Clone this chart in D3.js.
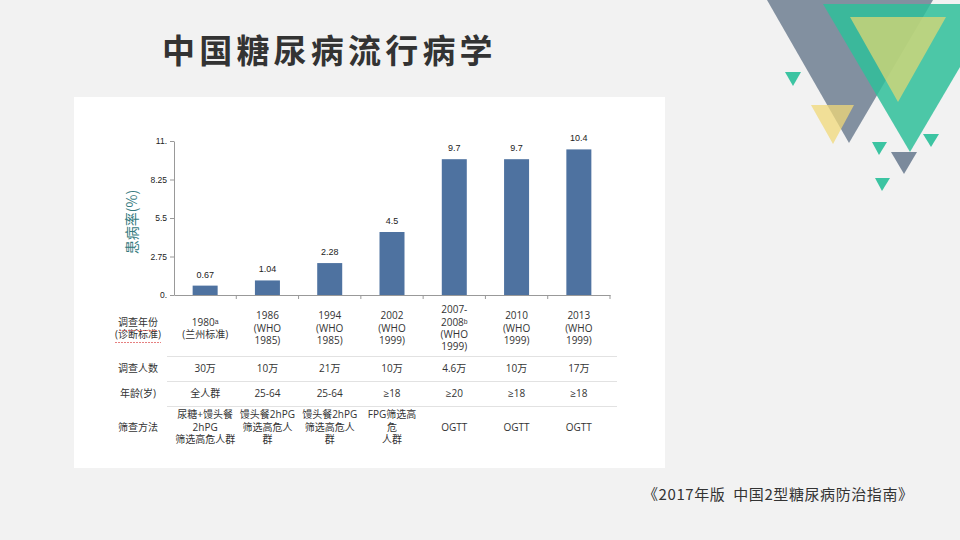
<!DOCTYPE html>
<html><head><meta charset="utf-8">
<script src="https://cdn.jsdelivr.net/npm/d3@7"></script>
<style>
html,body{margin:0;padding:0;background:#f2f2f2;}
svg{display:block;font-family:"Noto Sans CJK SC","Microsoft YaHei",sans-serif;}
</style></head>
<body><svg id="c" width="960" height="540"></svg>
<script>
const categories = ["1980","1986","1994","2002","2007-2008","2010","2013"];
const prevalence = [0.67, 1.04, 2.28, 4.5, 9.7, 9.7, 10.4];
const valueLabels = ["0.67","1.04","2.28","4.5","9.7","9.7","10.4"];
const yTicks = [0, 2.75, 5.5, 8.25, 11];
const yTickLabels = ["0.","2.75","5.5","8.25","11."];
const surveyYear = [["1980ᵃ","(兰州标准)"],["1986","(WHO","1985)"],["1994","(WHO","1985)"],["2002","(WHO","1999)"],["2007-","2008ᵇ","(WHO","1999)"],["2010","(WHO","1999)"],["2013","(WHO","1999)"]];
const sampleSize = ["30万","10万","21万","10万","4.6万","10万","17万"];
const ageRange = ["全人群","25-64","25-64","≥18","≥20","≥18","≥18"];
const screening = [["尿糖+馒头餐","2hPG","筛选高危人群"],["馒头餐2hPG","筛选高危人","群"],["馒头餐2hPG","筛选高危人","群"],["FPG筛选高","危","人群"],["OGTT"],["OGTT"],["OGTT"]];
const rowLabels = [["调查年份","(诊断标准)"],["调查人数"],["年龄(岁)"],["筛查方法"]];

const svg = d3.select("#c");

// decorative triangles
const tris = [
  {p:[[767,0],[933,0],[849,143]], c:"#6f7f92", o:0.85},
  {p:[[823,4],[997,4],[910,152]], c:"#2fbf9a", o:0.85},
  {p:[[850,17],[946,17],[898,102]], c:"#e8d870", o:0.7},
  {p:[[785,72],[801,72],[793,86]], c:"#3cc4a2", o:1},
  {p:[[811,105],[854,105],[833,144]], c:"#f0d878", o:0.75},
  {p:[[872,142],[887,142],[879,155]], c:"#3cc4a2", o:1},
  {p:[[891,152],[917,152],[904,174]], c:"#7b8a9c", o:1},
  {p:[[923,134],[939,134],[931,147]], c:"#3cc4a2", o:1},
  {p:[[875,178],[890,178],[882,191]], c:"#3cc4a2", o:1}
];
svg.append("g").selectAll("path").data(tris).join("path")
  .attr("d", d => d3.line()(d.p) + "Z")
  .attr("fill", d => d.c).attr("fill-opacity", d => d.o);

// title
svg.append("text").attr("x",162).attr("y",63)
  .attr("font-size",33).attr("font-weight","bold").attr("fill","#333")
  .attr("letter-spacing",4.2).text("中国糖尿病流行病学");

// panel
svg.append("rect").attr("x",74).attr("y",97).attr("width",591).attr("height",371).attr("fill","#fff");

// chart
const x = d3.scaleBand().domain(categories).range([174,610]).paddingInner(0).paddingOuter(0);
const y = d3.scaleLinear().domain([0,11]).range([295,141]);
const g = svg.append("g");

const yAxis = g.append("g").attr("transform","translate(174,0)")
  .call(d3.axisLeft(y).tickValues(yTicks).tickFormat((d,i)=>yTickLabels[i]).tickSize(4).tickSizeOuter(0));
yAxis.selectAll("path,line").attr("stroke","#999");
yAxis.selectAll("text").attr("font-size",8.5).attr("fill","#222").attr("font-family","Liberation Sans, Arial, sans-serif");

const xAxis = g.append("g").attr("transform","translate(0,295)")
  .call(d3.axisBottom(x).tickSize(0).tickFormat(""));
xAxis.select("path").attr("stroke","#999");
g.append("g").selectAll("line").data(categories.slice(1).concat(["end"])).join("line")
  .attr("x1",(d,i)=>174+x.bandwidth()*(i+1)).attr("x2",(d,i)=>174+x.bandwidth()*(i+1))
  .attr("y1",295).attr("y2",299).attr("stroke","#999");

const bw = 25;
g.append("g").selectAll("rect").data(prevalence).join("rect")
  .attr("x",(d,i)=>x(categories[i])+x.bandwidth()/2-bw/2)
  .attr("y",d=>y(d)).attr("width",bw).attr("height",d=>y(0)-y(d))
  .attr("fill","#4e72a0");
g.append("g").selectAll("text").data(prevalence).join("text")
  .attr("x",(d,i)=>x(categories[i])+x.bandwidth()/2)
  .attr("y",d=>y(d)-8).attr("text-anchor","middle")
  .attr("font-size",9).attr("fill","#222")
  .attr("font-family","Liberation Sans, Arial, sans-serif")
  .text((d,i)=>valueLabels[i]);

svg.append("text").attr("transform","translate(133,222) rotate(-90)")
  .attr("text-anchor","middle").attr("dominant-baseline","middle")
  .attr("font-size",14).attr("fill","#357a7e").text("患病率(%)");

// table
const cx = i => x(categories[i]) + x.bandwidth()/2;
const lh = 12.2;
const tfs = 10;
function lines(gg, xx, cy, arr) {
  const n = arr.length;
  arr.forEach((t,k)=>{
    gg.append("text").attr("x",xx).attr("y",cy+(k-(n-1)/2)*lh)
      .attr("text-anchor","middle").attr("dominant-baseline","middle")
      .attr("font-family","'Open Sans','Liberation Sans','Noto Sans CJK SC',sans-serif")
      .attr("font-size",tfs).attr("fill","#333").text(t);
  });
}
const tg = svg.append("g");
const rowCenters = [329, 369, 394, 428];
rowLabels.forEach((r,i)=>lines(tg,138,rowCenters[i],r));
surveyYear.forEach((r,i)=>lines(tg,cx(i),329,r));
sampleSize.forEach((r,i)=>lines(tg,cx(i),369,[r]));
ageRange.forEach((r,i)=>lines(tg,cx(i),394,[r]));
screening.forEach((r,i)=>lines(tg,cx(i),428,r));
[356.5,381.5,406.5].forEach(yy=>{
  tg.append("line").attr("x1",167).attr("x2",617).attr("y1",yy).attr("y2",yy)
    .attr("stroke","#e2e2e2").attr("stroke-width",1);
});
// red spellcheck-style underline under row label
[330.5,342.5].forEach((yy,i)=>{
  const w = i===0?38:46;
  tg.append("line").attr("x1",138-w/2).attr("x2",138+w/2).attr("y1",yy).attr("y2",yy)
    .attr("stroke","#e06060").attr("stroke-width",0.8).attr("stroke-dasharray","2,1");
});

// footer
svg.append("text").attr("x",643).attr("y",500)
  .attr("font-size",15).attr("fill","#333")
  .attr("textLength",270).attr("lengthAdjust","spacing")
  .attr("xml:space","preserve").text("《2017年版  中国2型糖尿病防治指南》");
</script></body></html>
